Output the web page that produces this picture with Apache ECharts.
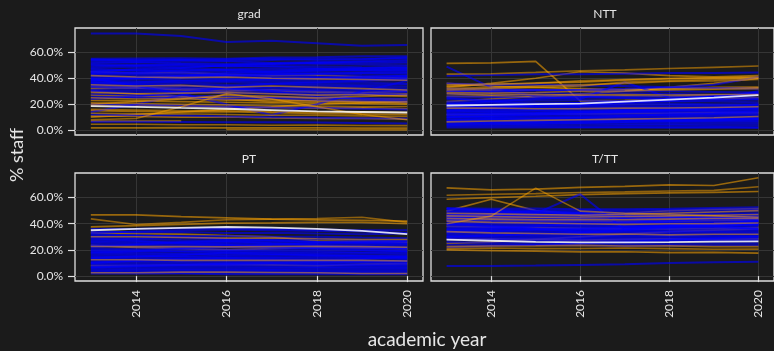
<!DOCTYPE html>
<html>
<head>
<meta charset="utf-8">
<script src="https://cdn.jsdelivr.net/npm/echarts@6/dist/echarts.min.js"></script>
<style>
  html, body { margin: 0; padding: 0; background: #1b1b1b; }
  #chart { width: 774px; height: 351px; }
</style>
</head>
<body>
<div id="chart"></div>
<script>
// Academic years on the x axis
const years = [2013, 2014, 2015, 2016, 2017, 2018, 2019, 2020];
const xTicks = [2014, 2016, 2018, 2020];
const yTicks = [0, 20, 40, 60];
const facetNames = ['grad', 'NTT', 'PT', 'T/TT'];

// % staff per institution, one row per line (2013..2020); null = no record
const gradBlue = [
  [74.6, 74.6, 72.6, 68, 69, 67, 65, 65.6],
  [55, 55.2, 55.5, 55, 56, 56.2, 57, 57],
  [54, 54, 54.3, 53.5, 54, 55, 55, 55.5],
  [53, 52.5, 53, 53.2, 52, 52.5, 53, 53],
  [52, 52.2, 51.5, 51, 51.5, 51, 50.5, 50],
  [51, 50, 50.3, 49, 49.5, 49.2, 48.5, 48],
  [50, 49.5, 49, 49.5, 49, 48, 47, 46.5],
  [48, 48.5, 48, 47, 47.5, 47.2, 46, 45],
  [47, 46, 46.5, 46.2, 45, 45.5, 46, 46.3],
  [46, 46.2, 45, 45, 44.5, 44, 44.2, 43.5],
  [45, 44, 44.5, 43, 43.5, 43.2, 42.5, 42],
  [44, 43.5, 43, 42, 42.3, 41.5, 41, 41.2],
  [43, 42.5, 42, 42.5, 41, 40.5, 40, 40.5],
  [42, 41, 41.5, 41, 40, 40.2, 39.5, 39],
  [41, 40, 40.2, 39.5, 39, 38.5, 38, 38.5],
  [40, 34, 28, 20, 11.6, 20, 30, 38],
  [39, 39.2, 38.5, 38, 37.5, 37, 36.5, 36],
  [38, 37.5, 37, 37.2, 36, 35.5, 35, 35.2],
  [37, 36, 36.2, 35, 35.3, 34.5, 34, 33.5],
  [36, 35.5, 34.5, 34, 33.5, 33.2, 33, 32],
  [35, 34.5, 34, 33, 32.5, 32.2, 31.5, 31],
  [34, 33, 32.5, 32, 31, 31.2, 30.5, 30],
  [33, 32, 31.5, 31.2, 30.5, 30, 29, 29.5],
  [31, 30.5, 30, 29.5, 29.2, 28.5, 28, 27.5],
  [30, 29, 29.5, 28.5, 28, 27, 27.5, 27],
  [28, 27, 26.5, 26.2, 25.5, 25, 24.5, 24],
  [14, 20, 27, 33, 36, 37, 38, 40],
  [26, 25, 24.5, 24, 24.5, 23, 22.5, 22],
  [20, 19.5, 19, 18, 17.5, 17.2, 16.5, 16],
  [12, 11.5, 11.2, 10.5, 10, 9.5, 9.2, 9],
  [6.5, 6.4, 6.2, 6, 6.1, 5.8, 5.5, 5.2],
  [24, 26, 29, 33, 30, 26, 24, 22],
  [45, 47, 48, 50, 51, 52, 53, 54],
  [38, 40, 42, 44, 45, 46, 47, 48],
  [54.5, 53.5, 54, 54.5, 55, 54, 54.5, 56],
  [49, 50, 51, 50.5, 51, 52, 51.5, 52],
  [43.5, 44.5, 46, 46.5, 46, 47, 48, 49],
  [39.5, 40.5, 41, 42, 43, 43.5, 44, 44.5],
  [36.5, 37, 38, 38.5, 39, 40, 41, 42]
];
const gradOrange = [
  [45, 44, 44.5, 43, 42, 42.5, 41, 40],
  [35, 34, 34.5, 33, 34, 33, 32, 31],
  [32, 32.5, 31, 30, 31, 30, 29, 30],
  [29, 28, 28.5, 29, 28, 27, 27.5, 26],
  [27, 26, 25.5, 25, 25.5, 24.5, 24, 24],
  [25, 24, 24.2, 23, 23.5, 22.5, 22, 22],
  [23, 22.5, 22, 21.5, 21, 21.2, 20.5, 20],
  [21, 20.5, 20, 19.5, 19, 18.5, 18, 18.2],
  [19, 19.2, 18.5, 18, 17.5, 17, 17.2, 16.5],
  [16, 15.5, 15, 15.2, 14.5, 14, 14.2, 13.5],
  [15, 14.5, 14, 14.2, 13.5, 13, 12.5, 12],
  [13, 12.5, 12.6, 12, 11.5, 11.6, 11, 10.5],
  [11, 10.5, 10, 10.2, 9.5, 9, 9.1, 8.5],
  [8, 9, 18, 28, 24, 18, 12, 8],
  [7, 7, 7, null, null, null, null, null],
  [null, null, null, 0.5, 0.5, 0.3, 0.2, 0.2],
  [1.8, 1.8, 1.9, 1.8, 1.7, 1.8, 1.6, 1.5],
  [4.5, 4.5, 4.2, 4.1, 3.8, 3.9, 3.6, 3.5],
  [30, 28, 26, 24, 22, 23, 22, 21],
  [20, 22, 24, 27, 26, 25, 26, 27],
  [10, 12, 14, 16, 18, 20, 21, 22],
  [42, 41, 40.5, 41, 40, 39.5, 39, 38.5],
  [33.5, 33, 32, 31.5, 30.5, 29, 28.5, 28]
];
const gradWhite = [18.5, 18, 17.2, 16.5, 15.5, 14.5, 14, 13.6];

const nttBlue = [
  [42, 42.5, 43, 43, 43.5, 44, 44, 44.5],
  [49, 33, 26, 24, 37, 25, 24, 30],
  [36, 35, 35.2, 34.5, 34, 33, 32.5, 32],
  [32, 31.5, 31, 30.5, 30.2, 30, 29.5, 29],
  [30, 29.5, 29, 28, 28.5, 28, 27, 27.5],
  [28, 27.5, 27, 26.5, 26, 26.2, 25.5, 25],
  [26, 25.5, 25, 25.2, 24.5, 24, 24.1, 23.5],
  [24, 23.5, 23, 23.2, 22.5, 22, 22.1, 21.5],
  [22, 22.1, 21.5, 21, 21.2, 20.5, 20, 20],
  [21, 20.5, 20, 20.2, 19.5, 19.6, 19, 19],
  [20, 19.5, 19, 19.1, 18.5, 18, 18.5, 18],
  [19, 18.5, 18, 18.2, 17.5, 17.6, 17, 17],
  [18, 17.5, 17.6, 17, 16.5, 16.6, 16, 16],
  [17, 16.5, 16, 16.2, 15.5, 15.6, 15, 15.5],
  [16, 15.5, 15.6, 15, 15.1, 14.5, 14.6, 14],
  [15, 14.5, 14.6, 14, 14.1, 13.5, 13.6, 13.5],
  [14, 14.1, 13.5, 13.6, 13, 13.1, 12.5, 12.5],
  [13, 12.5, 12.6, 12, 12.1, 11.5, 11.6, 11.5],
  [12, 12.1, 11.5, 11.6, 11, 11.1, 10.5, 10.5],
  [11, 10.5, 10.6, 10, 10.1, 10, 9.5, 9.5],
  [10, 10.1, 9.5, 9.6, 9, 9.1, 9, 8.5],
  [9, 9.1, 8.5, 8.6, 8, 8.1, 8, 8],
  [8, 8.1, 7.5, 7.6, 7.5, 7, 7.1, 7],
  [7, 6.5, 6.6, 6.5, 6, 6.1, 6, 6],
  [6, 5.5, 5.6, 5.5, 5, 5.1, 5, 5],
  [4.5, 4.6, 4, 4.1, 4, 4.1, 3.5, 3.5],
  [3, 3.1, 3, 2.5, 2.6, 2.5, 2.6, 2],
  [2, 2.1, 2, 2.1, 2, 1.8, 1.9, 1.8],
  [25, 22, 20, 19, 21, 23, 26, 29],
  [15, 17, 19, 21, 22, 24, 26, 28],
  [20, 22, 24, 26, 25, 24, 26, 27],
  [10, 11, 12, 13, 14, 15, 16, 17],
  [12, 13, 13.2, 14, 15, 16, 17, 20],
  [30, 30.2, 31, 31.2, 32, 33, 35, 41],
  [5, 6, 6.5, 7, 7.5, 8, 8.5, 9],
  [18, 19, 20, 21, 22, 22.5, 23, 24],
  [3.8, 4.5, 5, 5.5, 6.2, 7, 7.5, 8.5],
  [7.5, 8.5, 9, 10, 11, 12, 13, 14.5]
];
const nttOrange = [
  [51.5, 51.8, 53, 22.5, 23, 24, 24, 25],
  [43.2, 43.5, 44.5, 45.8, 46.5, 47.5, 48.4, 49.4],
  [33, 36, 40, 45, 44, 42, 41, 42],
  [35, 35.5, 36, 38, 39, 40, 40.5, 41],
  [34, 35, 36.5, 37, 38.5, 39.5, 40, 40.5],
  [32, 33, 34, 35, 36, 37.5, 38, 39],
  [30, 30.5, 31, 31.2, 31.5, 32, 32.1, 32.7],
  [29, 28.5, 29, 30, 30.2, 31, 31.5, 32],
  [36, 34, 33, 32, 31, 32, 33, 33.2],
  [28, 27, 27.5, 27, 27.5, 27.1, 27.5, 27.5],
  [26, 26.1, 25.5, 26, 26.5, 26.1, 27, 27],
  [17, 17.1, 16.5, 16.6, 17, 17.1, 17.5, 18],
  [12, 12.1, 12.5, 12.6, 13, 13.1, 13.5, 13.5],
  [6.4, 7, 7.5, 8, 8.5, 9, 9.5, 10.5],
  [22, 24, 26, 28, 30, 33, 36, 40],
  [31, 32, 33, 34, 37, 38, 39, 40]
];
const nttWhite = [19, 19.5, 20, 20.5, 22, 23.5, 25, 27];

const ptBlue = [
  [36, 36.1, 36.5, 36.6, 36, 35.5, 35, 35],
  [34, 33.5, 33.6, 33, 33.1, 32.5, 32, 32.5],
  [31, 31.1, 30.5, 30.6, 30, 30.1, 29.5, 29],
  [30, 29, 29.5, 28.5, 28, 28.5, 27.5, 27],
  [28, 28.1, 27.5, 27, 27.1, 26.5, 26, 26],
  [27, 26.5, 26, 26.1, 25.5, 25.6, 25, 24.5],
  [26, 25.5, 25, 25.1, 24.5, 24, 24.1, 23.5],
  [25, 24.5, 24, 24.1, 23.5, 23, 23.1, 22.5],
  [24, 23.5, 23, 23.1, 22.5, 22, 22.1, 21.5],
  [23, 22.5, 22, 22.1, 21.5, 21, 21.1, 20.5],
  [21, 20.5, 20.6, 20, 20.1, 19.5, 19.6, 19],
  [20, 19.5, 19, 19.1, 18.5, 18.6, 18, 18],
  [19, 18.5, 18.6, 18, 18.1, 17.5, 17.6, 17],
  [18, 17.5, 17, 17.1, 16.5, 16.6, 16, 16],
  [17, 16.5, 16.6, 16, 16.1, 15.5, 15.6, 15],
  [16, 15.5, 15, 15.1, 14.5, 14.6, 14, 14],
  [15, 14.5, 14.6, 14, 14.1, 13.5, 13.6, 13],
  [14, 13.5, 13, 13.1, 12.5, 12.6, 12, 12],
  [13, 12.5, 12.6, 12, 12.1, 11.5, 11.6, 11],
  [12, 11.5, 11.6, 11, 11.1, 10.5, 10.6, 10],
  [11, 10.5, 10.6, 10, 10.1, 9.5, 9.6, 9.5],
  [10, 9.5, 9.6, 9, 9.1, 9, 8.5, 8.5],
  [9, 8.5, 8.6, 8.5, 8, 8.1, 8, 7.5],
  [8, 7.5, 7.6, 7.5, 7, 7.1, 7, 6.5],
  [7, 6.5, 6.6, 6.5, 6, 6.1, 6, 6],
  [6, 5.5, 5.6, 5.5, 5, 5.1, 5, 5],
  [5, 4.5, 4.6, 4.5, 4.6, 4, 4.1, 4],
  [4, 3.5, 3.6, 3.5, 3.6, 3, 3.1, 3],
  [3, 2.5, 2.6, 2.5, 2.6, 2.5, 2, 2],
  [2, 2.1, 2, 1.5, 1.6, 1.5, 1.6, 1.5],
  [22, 24, 26, 27, 25, 24, 22, 21],
  [18, 19, 21, 22, 24, 25, 26, 27],
  [29, 27, 25, 24, 22, 21, 20, 19],
  [14, 15, 16, 18, 17, 16, 15, 14],
  [33, 34, 35, 35.5, 35, 34.5, 34, 33],
  [10, 12, 13, 14, 13, 12, 13, 15],
  [32, 31, 30, 28, 27, 26, 25.5, 25],
  [6.5, 7.5, 8.5, 9.5, 10, 10.5, 11, 11.5]
];
const ptOrange = [
  [46.8, 46.8, 45.5, 44.5, 43.5, 43, 42.5, 42],
  [43.7, 39.4, 41, 43, 43.5, 44, 45, 41],
  [37.6, 38.5, 39.5, 40.5, 40.6, 41, 41.1, 40],
  [30, 30.1, 29.5, 29, 29.1, 28.5, 28, 28],
  [33, 32.5, 32, 31, 30, 27, 26.5, 26],
  [22.6, 22.5, 22.5, 22.3, 22.5, 22.8, 22.5, 22],
  [23.5, 22, 21, 20, 21, 22, 21.5, 21],
  [12.5, 12.5, 12, 12.1, 12, 12.1, 12, 11.5],
  [8, 8.1, 8.5, 9, 8.5, 8, 9, 9.5],
  [2.6, 2.6, 3, 3, 2.8, 2.5, 2, 2]
];
const ptWhite = [35, 36, 36.8, 37.5, 37, 36, 34.5, 32];

const tttBlue = [
  [52, 51.5, 51.6, 51, 51.1, 51.5, 52, 52.5],
  [51, 50.5, 50, 50.1, 50, 50.5, 51, 51],
  [50, 49.5, 49, 48.5, 48.6, 49, 49.5, 50],
  [49, 48.5, 48, 48.1, 47.5, 47.6, 48, 48],
  [48, 47.5, 47, 47.1, 46.5, 46.6, 47, 47],
  [47, 46.5, 46, 46.1, 45.5, 45, 45.5, 46],
  [46, 45.5, 45, 45.1, 44.5, 44.6, 44.5, 45],
  [45, 44.5, 44, 44.1, 43.5, 43.6, 43.5, 44],
  [44, 43.5, 43, 43.1, 42.5, 42.6, 42.5, 43],
  [43, 42.5, 42, 42.1, 41.5, 41.6, 41.5, 42],
  [42, 41.5, 41, 41.1, 40.5, 40.6, 40.5, 41],
  [41, 40.5, 40, 40.1, 39.5, 39.6, 39.5, 40],
  [40, 39.5, 39, 39.1, 38.5, 38.6, 38.5, 39],
  [39, 38.5, 38, 38.1, 37.5, 37.6, 37.5, 38],
  [38, 37.5, 37, 37.1, 36.5, 36.6, 36.5, 37],
  [37, 36.5, 36, 36.1, 35.5, 35.6, 35.5, 36],
  [36, 35.5, 35, 35.1, 34.5, 34.6, 34.5, 35],
  [35, 34.5, 34, 34.1, 33.5, 33.6, 33.5, 34],
  [34, 33.5, 33, 33.1, 32.5, 32.6, 32.5, 33],
  [33, 32.5, 32, 32.1, 31.5, 31.6, 31.5, 32],
  [32, 31.5, 31, 31.1, 30.5, 30.6, 30.5, 31],
  [31, 30.5, 30, 30.1, 29.5, 29.6, 29.5, 30],
  [30, 29.5, 29, 29.1, 28.5, 28.6, 28.5, 29],
  [29, 28.5, 28, 28.1, 27.5, 27.6, 28, 28],
  [28, 27.5, 27, 27.1, 26.5, 26.6, 27, 27],
  [26, 25.5, 25, 25.1, 24.5, 24.6, 25, 25],
  [24, 24.1, 23.5, 23.6, 23, 23.1, 23.5, 23.5],
  [7.7, 7.7, 8, 8.5, 9, 10, 10.5, 11],
  [44, 46, 47.9, 62.5, 35.5, 38, 40, 42],
  [46, 48, 50, 48, 44, 40, 38, 36],
  [40, 38, 36, 34, 36, 38, 40, 42],
  [35, 36, 38, 40, 41, 42, 44, 45],
  [30, 31, 32, 33, 35, 37, 38, 40],
  [22, 23, 24, 25, 26, 28, 29, 30],
  [51.5, 50, 48.5, 47, 46, 45.5, 44.5, 43.5],
  [33.5, 34.5, 35.5, 36, 37.5, 38.5, 39, 39.5]
];
const tttOrange = [
  [67.4, 65.9, 66.5, 67.7, 68.5, 69.7, 69.2, 75.1],
  [61.8, 62.5, 63, 63.8, 64.3, 65, 65.5, 68.2],
  [58.7, 60, 61, 62.3, 63, 63.5, 64, 64.6],
  [40, 45.8, 67.2, 49.6, 48, 47, 46, 45],
  [49.6, 58.7, 50, 47, 46, 45, 44.5, 44],
  [48, 47.5, 47, 46.5, 47, 48, 49, 50],
  [47, 46.5, 46.6, 47, 48, 50, 51, 51.5],
  [46, 45.5, 45, 45.1, 45.5, 46, 46.5, 47],
  [45, 44.5, 44.6, 44, 44.1, 44.5, 45, 45.5],
  [44, 43.5, 43, 43.1, 43, 43.5, 44, 44],
  [43, 42.5, 42, 42.1, 41.5, 42, 42.5, 43],
  [42, 41, 40.5, 40, 39.5, 40, 40.1, 40.5],
  [38, 37.5, 37, 36.5, 36, 36.1, 36.5, 37],
  [34, 33, 32.5, 32, 32.1, 31.5, 32, 32],
  [28, 28.5, 28, 27.5, 28, 28.5, 28.1, 28.5],
  [21, 21.5, 21, 21.1, 21.5, 21, 20.5, 20.6],
  [20, 19.5, 19, 18.5, 18.6, 18, 18.1, 17.5],
  [22.5, 23, 23.1, 23.5, 23, 23.1, 22.5, 22.5],
  [25, 26, 28, 30, 32, 34, 35, 36]
];
const tttWhite = [27.8, 27, 26.2, 25.7, 25.8, 26, 26.3, 26.5];

const facetBlue = [gradBlue, nttBlue, ptBlue, tttBlue];
const facetOrange = [gradOrange, nttOrange, ptOrange, tttOrange];
const facetWhite = [gradWhite, nttWhite, ptWhite, tttWhite];

// Panel boxes (2x2 facet layout)
const panels = [
  { left: 75,  top: 28,  width: 348, height: 107 },
  { left: 431, top: 28,  width: 348, height: 107 },
  { left: 75,  top: 173, width: 348, height: 108 },
  { left: 431, top: 173, width: 348, height: 108 }
];

const textColor = '#e6e6e6';
const gridColor = '#363636';
const fontFamily = 'Lato, "Open Sans", sans-serif';

const grid = panels.map(p => Object.assign({
  show: true, borderColor: '#e0e0e0', borderWidth: 1.3,
  backgroundColor: '#1b1b1b', containLabel: false
}, p));

const xAxis = panels.map((p, i) => {
  const bottom = i >= 2;
  return {
    type: 'value', gridIndex: i, min: 2012.65, max: 2020.35,
    axisLine: { show: false },
    axisTick: { show: bottom, customValues: xTicks, length: 6, lineStyle: { color: '#e0e0e0', width: 1.2 } },
    axisLabel: {
      show: bottom, customValues: xTicks, rotate: 90, margin: 9,
      color: textColor, fontSize: 12, fontFamily: fontFamily,
      formatter: v => String(v)
    },
    splitLine: { show: true, lineStyle: { color: gridColor, width: 1 } }
  };
});

const yAxis = panels.map((p, i) => {
  const left = i % 2 === 0;
  return {
    type: 'value', gridIndex: i, min: -3.75, max: 78.75,
    axisLine: { show: false },
    axisTick: { show: left, customValues: yTicks, length: 7, lineStyle: { color: '#e0e0e0', width: 1.2 } },
    axisLabel: {
      show: left, customValues: yTicks, margin: 12,
      color: textColor, fontSize: 12, fontFamily: fontFamily,
      formatter: v => v.toFixed(1) + '%'
    },
    splitLine: { show: true, lineStyle: { color: gridColor, width: 1 } }
  };
});

function toPoints(vals) {
  const pts = [];
  vals.forEach((v, k) => { if (v !== null) pts.push([years[k], v]); });
  return pts;
}

function line(i, vals, color, opacity, width, z) {
  return {
    type: 'line', xAxisIndex: i, yAxisIndex: i,
    data: toPoints(vals), showSymbol: false, symbol: 'none',
    silent: true, animation: false, z: z,
    lineStyle: { color: color, opacity: opacity, width: width },
    emphasis: { disabled: true }
  };
}

// Institutions drawn in mixed order: some orange lines sit under the blue mass, some over it
const series = [];
facetNames.forEach((name, i) => {
  const orange = facetOrange[i];
  orange.forEach((v, k) => { if (k % 2 === 0) series.push(line(i, v, '#ffa500', 0.55, 1.7, 2)); });
  facetBlue[i].forEach(v => series.push(line(i, v, '#0000ff', 0.62, 2, 2)));
  orange.forEach((v, k) => { if (k % 2 === 1) series.push(line(i, v, '#ffa500', 0.5, 1.6, 2)); });
  series.push(line(i, facetWhite[i], '#ffffff', 0.85, 1.8, 3));
});

const stripText = facetNames.map((name, i) => ({
  type: 'text', silent: true,
  style: {
    text: name, x: panels[i].left + 174, y: panels[i].top - 14,
    textAlign: 'center', textVerticalAlign: 'middle',
    fill: textColor, font: '12px ' + fontFamily
  }
}));

const chart = echarts.init(document.getElementById('chart'), null, { renderer: 'canvas' });
chart.setOption({
  backgroundColor: '#1b1b1b',
  animation: false,
  grid: grid,
  xAxis: xAxis,
  yAxis: yAxis,
  series: series,
  graphic: stripText.concat([
    {
      type: 'text', silent: true, x: 17, y: 155, rotation: Math.PI / 2,
      style: { text: '% staff', x: 0, y: 0, textAlign: 'center', textVerticalAlign: 'middle',
               fill: textColor, font: '18px ' + fontFamily }
    },
    {
      type: 'text', silent: true,
      style: { text: 'academic year', x: 427, y: 340, textAlign: 'center', textVerticalAlign: 'middle',
               fill: textColor, font: '19px ' + fontFamily }
    }
  ])
});
</script>
</body>
</html>
